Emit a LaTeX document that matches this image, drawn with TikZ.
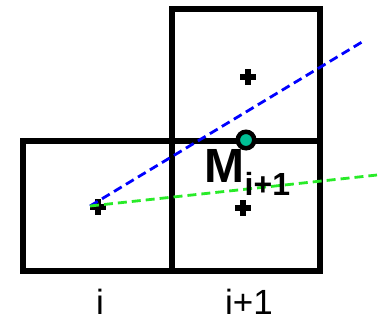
\documentclass[tikz,border=0pt]{standalone}
\usepackage{fontspec}
\setmainfont{Liberation Sans}
\usepackage{tikz}
\usetikzlibrary{positioning,calc}

\definecolor{teal1}{RGB}{0,192,150}
\definecolor{grn1}{RGB}{40,235,40}

\begin{document}
\begin{tikzpicture}[
  x=1pt, y=-1pt,
  cell/.style={draw, line width=5.3pt, line join=miter},
  crs/.style={line width=6pt},
  ray/.style={line width=2.8pt, dash pattern=on 9pt off 5pt},
  mid/.style={draw, circle, line width=4.5pt, fill=teal1,
    minimum size=16.5pt, inner sep=0pt},
  lbl/.style={font=\fontsize{35}{35}\selectfont, anchor=base, inner sep=0pt}
]
\useasboundingbox (0,0) rectangle (382,322);

% Cells
\draw[cell] (23,141) rectangle (172,271);
\draw[cell] (172,141) rectangle (320,271);
\draw[cell] (172,9) rectangle (320,141);

% Cell centres
\coordinate (C0) at (98,207);
\coordinate (C1) at (243,208);
\coordinate (C2) at (248,77);
\foreach \c in {C0,C1,C2}
  \draw[crs] (\c) +(-8,0) -- +(8,0) (\c) +(0,-8) -- +(0,8);

% Rays
\coordinate (S) at (90,206);
\coordinate (Eb) at (362,42);
\coordinate (Eg) at (377,175);
\draw[ray, blue] (S) -- (Eb);
\draw[ray, grn1] (S) -- (Eg);

% Midpoint
\node[mid] (M) at (246,140) {};
\node[anchor=base west, inner sep=0pt,
  font=\bfseries\fontsize{48}{48}\selectfont] (Ml) at (204.5,182)
  {M\raisebox{-13pt}{\fontsize{32}{32}\selectfont i+1}};

% Labels below cells
\node[lbl] (Li) at (100,314) {i};
\node[lbl] (Lj) at (249,314) {i+1};
\end{tikzpicture}
\end{document}
